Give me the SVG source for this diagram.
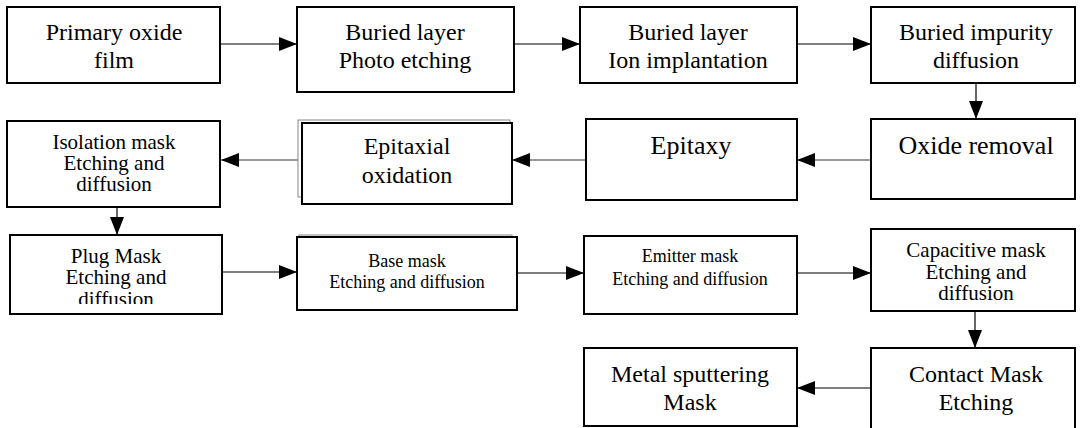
<svg xmlns="http://www.w3.org/2000/svg" width="1080" height="428" viewBox="0 0 1080 428">
  <style>
    .box { fill: #fff; stroke: #000; stroke-width: 2; }
    .thin { fill: none; stroke: #888; stroke-width: 1; }
    .t { font-family: "Liberation Serif", "Times New Roman", serif; fill: #000; text-anchor: middle; }
    .f24 { font-size: 24px; }
    .f21 { font-size: 21px; }
    .f18 { font-size: 18px; }
    .link { stroke: #000; stroke-width: 1.2; fill: none; }
    .link.grey { stroke: #777; stroke-width: 1.5; }
  </style>
  <defs>
    <marker id="head" markerUnits="userSpaceOnUse" markerWidth="20" markerHeight="16" refX="18" refY="7" orient="auto">
      <path d="M0,0 L18,7 L0,14 Z" fill="#000"/>
    </marker>
    <clipPath id="plugClip">
      <rect x="10" y="235" width="212" height="69"/>
    </clipPath>
  </defs>

  <!-- connectors -->
  <g id="connectors">
    <line class="link" x1="220" y1="44" x2="297" y2="44" marker-end="url(#head)"/>
    <line class="link" x1="514" y1="44" x2="580" y2="44" marker-end="url(#head)"/>
    <line class="link" x1="797" y1="44" x2="871" y2="44" marker-end="url(#head)"/>
    <line class="link" x1="976" y1="83" x2="976" y2="119" marker-end="url(#head)"/>
    <line class="link grey" x1="871" y1="160" x2="797" y2="160" marker-end="url(#head)"/>
    <line class="link grey" x1="586" y1="160" x2="512" y2="160" marker-end="url(#head)"/>
    <line class="link grey" x1="298" y1="160" x2="221" y2="160" marker-end="url(#head)"/>
    <line class="link" x1="117" y1="207" x2="117" y2="235" marker-end="url(#head)"/>
    <line class="link" x1="222" y1="272" x2="297" y2="272" marker-end="url(#head)"/>
    <line class="link" x1="517" y1="273" x2="584" y2="273" marker-end="url(#head)"/>
    <line class="link" x1="797" y1="273" x2="871" y2="273" marker-end="url(#head)"/>
    <line class="link" x1="975" y1="311" x2="975" y2="348" marker-end="url(#head)"/>
    <line class="link" x1="871" y1="388" x2="797" y2="388" marker-end="url(#head)"/>
  </g>

  <!-- row 1 -->
  <g id="primary-oxide">
    <rect class="box" x="7" y="7" width="213" height="76"/>
    <text class="t f24" x="114" y="40">Primary oxide</text>
    <text class="t f24" x="114" y="68">film</text>
  </g>
  <g id="buried-photo">
    <rect class="box" x="297" y="7" width="217" height="85"/>
    <text class="t f24" x="405" y="40">Buried layer</text>
    <text class="t f24" x="405" y="68">Photo etching</text>
  </g>
  <g id="buried-ion">
    <rect class="box" x="580" y="7" width="217" height="76"/>
    <text class="t f24" x="688" y="40">Buried layer</text>
    <text class="t f24" x="688" y="68">Ion implantation</text>
  </g>
  <g id="buried-diffusion">
    <rect class="box" x="871" y="7" width="204" height="76"/>
    <text class="t f24" x="976" y="40">Buried impurity</text>
    <text class="t f24" x="976" y="68">diffusion</text>
  </g>

  <!-- row 2 -->
  <g id="oxide-removal">
    <rect class="box" x="871" y="119" width="204" height="80"/>
    <text class="t" style="font-size:26px" x="976" y="154">Oxide removal</text>
  </g>
  <g id="epitaxy">
    <rect class="box" x="586" y="119" width="211" height="81"/>
    <text class="t" style="font-size:26px" x="691" y="154">Epitaxy</text>
  </g>
  <g id="epitaxial-oxidation">
    <rect class="thin" x="298" y="120" width="212" height="77"/>
    <rect class="box" x="302" y="123" width="210" height="81"/>
    <text class="t f24" x="407" y="154">Epitaxial</text>
    <text class="t f24" x="407" y="183">oxidation</text>
  </g>
  <g id="isolation-mask">
    <rect class="box" x="7" y="121" width="213" height="86"/>
    <text class="t f21" x="114" y="149">Isolation mask</text>
    <text class="t f21" x="114" y="170">Etching and</text>
    <text class="t f21" x="114" y="191">diffusion</text>
  </g>

  <!-- row 3 -->
  <g id="plug-mask">
    <rect class="box" x="10" y="235" width="212" height="79"/>
    <g clip-path="url(#plugClip)">
      <text class="t f21" x="116" y="263">Plug Mask</text>
      <text class="t f21" x="116" y="284">Etching and</text>
      <text class="t f21" x="116" y="306">diffusion</text>
    </g>
  </g>
  <g id="base-mask">
    <rect class="thin" x="299" y="235" width="213" height="70"/>
    <rect class="box" x="297" y="237" width="220" height="73"/>
    <text class="t f18" x="407" y="267">Base mask</text>
    <text class="t f18" x="407" y="288">Etching and diffusion</text>
  </g>
  <g id="emitter-mask">
    <rect class="box" x="584" y="236" width="213" height="78"/>
    <text class="t f18" x="690" y="262">Emitter mask</text>
    <text class="t f18" x="690" y="285">Etching and diffusion</text>
  </g>
  <g id="capacitive-mask">
    <rect class="box" x="871" y="229" width="204" height="82"/>
    <text class="t f21" x="976" y="257">Capacitive mask</text>
    <text class="t f21" x="976" y="279">Etching and</text>
    <text class="t f21" x="976" y="300">diffusion</text>
  </g>

  <!-- row 4 -->
  <g id="contact-mask">
    <rect class="box" x="871" y="348" width="204" height="84"/>
    <text class="t f24" x="976" y="382">Contact Mask</text>
    <text class="t f24" x="976" y="410">Etching</text>
  </g>
  <g id="metal-sputtering">
    <rect class="box" x="584" y="348" width="213" height="78"/>
    <text class="t f24" x="690" y="382">Metal sputtering</text>
    <text class="t f24" x="690" y="410">Mask</text>
  </g>
</svg>
